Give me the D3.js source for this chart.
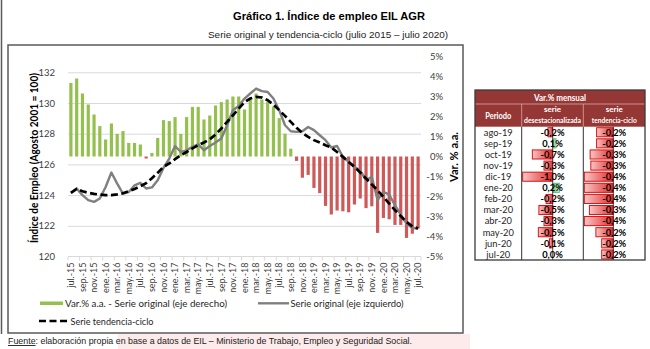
<!DOCTYPE html>
<html>
<head>
<meta charset="utf-8">
<script src="https://cdn.jsdelivr.net/npm/d3@7"></script>
<style>
  html, body { margin: 0; padding: 0; background: #fff; }
  svg { display: block; }
</style>
</head>
<body>
<div id="chart"></div>
<script>
'use strict';

// Monthly categories, jul-15 .. jul-20
const months = [
  'jul.-15', 'ago.-15', 'sep.-15', 'oct.-15', 'nov.-15', 'dic.-15',
  'ene.-16', 'feb.-16', 'mar.-16', 'abr.-16', 'may.-16', 'jun.-16',
  'jul.-16', 'ago.-16', 'sep.-16', 'oct.-16', 'nov.-16', 'dic.-16',
  'ene.-17', 'feb.-17', 'mar.-17', 'abr.-17', 'may.-17', 'jun.-17',
  'jul.-17', 'ago.-17', 'sep.-17', 'oct.-17', 'nov.-17', 'dic.-17',
  'ene.-18', 'feb.-18', 'mar.-18', 'abr.-18', 'may.-18', 'jun.-18',
  'jul.-18', 'ago.-18', 'sep.-18', 'oct.-18', 'nov.-18', 'dic.-18',
  'ene.-19', 'feb.-19', 'mar.-19', 'abr.-19', 'may.-19', 'jun.-19',
  'jul.-19', 'ago.-19', 'sep.-19', 'oct.-19', 'nov.-19', 'dic.-19',
  'ene.-20', 'feb.-20', 'mar.-20', 'abr.-20', 'may.-20', 'jun.-20',
  'jul.-20'
];

// Var.% a.a. - serie original (eje derecho)
const varAA = [
  3.68, 3.9, 3.15, 2.6, 2.1, 1.52, 0.85, 1.65, 1.13, 1.27,
  0.68, 0.68, 0.6, -0.1, 0.18, 0.93, 1.82, 1.77, 1.97, 1.13,
  1.97, 2.48, 2.48, 1.85, 2.05, 2.55, 2.72, 2.85, 3.0, 3.0,
  2.35, 2.85, 3.15, 2.85, 2.72, 2.5, 1.92, 1.14, 0.39, -0.22,
  -1.06, -0.92, -1.57, -1.83, -2.47, -2.9, -2.7, -2.74, -2.79, -2.4,
  -2.1, -2.58, -2.49, -3.82, -3.07, -3.14, -3.42, -3.42, -4.07, -3.86,
  -3.6
];

// Serie original (eje izquierdo)
const serieOriginal = [
  124.15, 124.43, 124.0, 123.67, 123.56, 123.78, 124.53, 125.47, 124.75, 124.1,
  124.2, 124.64, 124.8, 124.43, 124.5, 124.97, 125.77, 126.38, 127.2, 126.81,
  126.92, 127.14, 127.3, 126.92, 127.2, 127.43, 127.69, 128.55, 129.53, 129.8,
  130.29, 130.62, 130.94, 130.77, 130.72, 130.29, 129.53, 128.55, 128.16, 128.12,
  128.16, 128.44, 128.23, 127.9, 127.58, 127.1, 127.2, 126.49, 126.16, 125.84,
  125.6, 124.97, 125.19, 123.67, 124.21, 124.04, 123.34, 122.72, 122.15, 121.86,
  121.82
];

// Serie tendencia-ciclo (eje izquierdo)
const tendencia = [
  124.15, 124.4, 124.25, 124.15, 124.08, 124.03, 124.0, 124.0, 124.05, 124.12,
  124.25, 124.4, 124.58, 124.78, 125.1, 125.45, 125.84, 126.06, 126.34, 126.6,
  126.81, 127.04, 127.25, 127.43, 127.64, 127.95, 128.34, 128.77, 129.2, 129.64,
  130.05, 130.29, 130.4, 130.36, 130.18, 129.9, 129.53, 129.16, 128.77, 128.38,
  128.05, 127.79, 127.58, 127.43, 127.25, 127.1, 126.81, 126.49, 126.16, 125.84,
  125.47, 125.08, 124.69, 124.32, 123.88, 123.45, 123.02, 122.63, 122.25, 121.97,
  121.82
];

const leftTicks = [120, 122, 124, 126, 128, 130, 132];
const rightTicks = [-5, -4, -3, -2, -1, 0, 1, 2, 3, 4, 5];

// Tabla: Var.% mensual
const tablePeriods = ['ago-19', 'sep-19', 'oct-19', 'nov-19', 'dic-19', 'ene-20',
  'feb-20', 'mar-20', 'abr-20', 'may-20', 'jun-20', 'jul-20'];
const tableDesest = [-0.16, 0.11, -0.68, -0.29, -1.0, 0.22, -0.22, -0.46, -0.29, -0.48, -0.11, 0.0];
const tableTendencia = [-0.23, -0.23, -0.32, -0.31, -0.4, -0.4, -0.4, -0.33, -0.4, -0.24, -0.16, -0.16];

const W = 650, H = 349;
const plot = { left: 68, right: 421, top: 72.3, bottom: 256.5 };
const CAL = 'Lato, "Open Sans", sans-serif';
const ARIAL = '"Liberation Sans", Arial, sans-serif';

const svg = d3.select('#chart').append('svg')
  .attr('width', W)
  .attr('height', H)
  .attr('viewBox', '0 0 ' + W + ' ' + H);

const defs = svg.append('defs');

// page bits around the chart
svg.append('rect').attr('x', 118).attr('y', 334).attr('width', 352).attr('height', 15).attr('fill', '#fcebea');
svg.append('line').attr('x1', 1.5).attr('x2', 1.5).attr('y1', 0).attr('y2', 334)
  .attr('stroke', '#5a5a5a').attr('stroke-width', 1.5);
svg.append('rect').attr('x', 8).attr('y', 45).attr('width', 455).attr('height', 288)
  .attr('fill', 'none').attr('stroke', '#595959').attr('stroke-width', 1.5);

svg.append('text').attr('x', 329).attr('y', 19.5).attr('text-anchor', 'middle')
  .attr('font-family', ARIAL).attr('font-weight', 'bold').attr('font-size', 11.5)
  .attr('textLength', 192).attr('lengthAdjust', 'spacingAndGlyphs')
  .text('Gráfico 1. Índice de empleo EIL AGR');
svg.append('text').attr('x', 328).attr('y', 37.5).attr('text-anchor', 'middle')
  .attr('font-family', ARIAL).attr('font-size', 9.5).attr('fill', '#222')
  .attr('textLength', 240).attr('lengthAdjust', 'spacingAndGlyphs')
  .text('Serie original y tendencia-ciclo (julio 2015 – julio 2020)');

// scales
const x = d3.scaleBand().domain(months).range([plot.left, plot.right])
  .paddingInner(0.45).paddingOuter(0.225);
const cx = m => x(m) + x.bandwidth() / 2;
const yLeft = d3.scaleLinear().domain([120, 132]).range([plot.bottom, plot.top]);
const yRight = d3.scaleLinear().domain([-5, 5]).range([plot.bottom, 56.5]);

// gridlines
const grid = svg.append('g').attr('transform', 'translate(' + plot.left + ',0)')
  .call(d3.axisLeft(yLeft).tickValues(leftTicks.slice(1))
    .tickSize(-(plot.right - plot.left)).tickFormat(''));
grid.select('.domain').remove();
grid.selectAll('line').attr('stroke', '#d9d9d9').attr('stroke-width', 1);

// left axis labels
const gl = svg.append('g').attr('transform', 'translate(' + plot.left + ',0)')
  .call(d3.axisLeft(yLeft).tickValues(leftTicks).tickSize(0).tickPadding(13));
gl.select('.domain').remove();
gl.selectAll('text').attr('font-family', CAL).attr('font-size', 9.5).attr('fill', '#404040');

// right axis labels
const gr = svg.append('g').attr('transform', 'translate(443,0)')
  .call(d3.axisLeft(yRight).tickValues(rightTicks).tickSize(0).tickPadding(0)
    .tickFormat(d => d + '%'));
gr.select('.domain').remove();
gr.selectAll('text').attr('font-family', CAL).attr('font-size', 9.5).attr('fill', '#404040');

// axis titles
svg.append('text').attr('transform', 'translate(38,158) rotate(-90)')
  .attr('text-anchor', 'middle').attr('font-family', CAL).attr('font-weight', 'bold')
  .attr('font-size', 10.5).attr('textLength', 170).attr('lengthAdjust', 'spacingAndGlyphs')
  .text('Índice de Empleo (Agosto 2001 = 100)');
svg.append('text').attr('transform', 'translate(458,157) rotate(-90)')
  .attr('text-anchor', 'middle').attr('font-family', CAL).attr('font-weight', 'bold')
  .attr('font-size', 10.5).attr('textLength', 50).attr('lengthAdjust', 'spacingAndGlyphs')
  .text('Var. % a.a.');

// bars
svg.append('g').selectAll('rect')
  .data(months)
  .join('rect')
  .attr('x', m => x(m))
  .attr('width', x.bandwidth())
  .attr('y', (m, i) => Math.min(yRight(varAA[i]), yRight(0)))
  .attr('height', (m, i) => Math.abs(yRight(varAA[i]) - yRight(0)))
  .attr('fill', (m, i) => varAA[i] >= 0 ? '#94c04e' : '#cf5858');

// bottom axis line with ticks every 2 months
svg.append('line').attr('x1', plot.left).attr('x2', plot.right)
  .attr('y1', plot.bottom).attr('y2', plot.bottom).attr('stroke', '#d9d9d9');
const tickPos = months.filter((m, i) => i % 2 === 0).map(m => x(m) - x.step() * x.paddingInner() / 2);
tickPos.push(plot.right);
svg.append('g').selectAll('line').data(tickPos).join('line')
  .attr('x1', d => d).attr('x2', d => d)
  .attr('y1', plot.bottom).attr('y2', plot.bottom + 4)
  .attr('stroke', '#d9d9d9');

svg.append('g').selectAll('text')
  .data(months.filter((m, i) => i % 2 === 0))
  .join('text')
  .attr('transform', m => 'translate(' + cx(m) + ',' + (plot.bottom + 6) + ') rotate(-90)')
  .attr('text-anchor', 'end').attr('dy', '0.35em')
  .attr('font-family', CAL).attr('font-size', 9).attr('fill', '#404040')
  .text(m => m);

// lines
const lineOrig = d3.line().x(d => cx(d.m)).y(d => yLeft(d.v));
svg.append('path')
  .datum(months.map((m, i) => ({ m: m, v: serieOriginal[i] })))
  .attr('d', lineOrig)
  .attr('fill', 'none').attr('stroke', '#808080').attr('stroke-width', 2.4)
  .attr('stroke-linejoin', 'round');
svg.append('path')
  .datum(months.map((m, i) => ({ m: m, v: tendencia[i] })))
  .attr('d', lineOrig)
  .attr('fill', 'none').attr('stroke', '#000').attr('stroke-width', 2.7)
  .attr('stroke-dasharray', '7,3.5');

// legend
const leg = svg.append('g').attr('font-family', CAL).attr('font-size', 10).attr('fill', '#262626');
leg.append('rect').attr('x', 40).attr('y', 301.5).attr('width', 23).attr('height', 3.5).attr('fill', '#94c04e');
leg.append('text').attr('x', 65).attr('y', 307).attr('textLength', 162).attr('lengthAdjust', 'spacingAndGlyphs')
  .text('Var.% a.a. - Serie original (eje derecho)');
leg.append('line').attr('x1', 258).attr('x2', 289).attr('y1', 303.3).attr('y2', 303.3)
  .attr('stroke', '#808080').attr('stroke-width', 2.4);
leg.append('text').attr('x', 290.5).attr('y', 307).attr('textLength', 113).attr('lengthAdjust', 'spacingAndGlyphs')
  .text('Serie original (eje izquierdo)');
leg.append('line').attr('x1', 39).attr('x2', 69).attr('y1', 321).attr('y2', 321)
  .attr('stroke', '#000').attr('stroke-width', 2.7).attr('stroke-dasharray', '7,3.5');
leg.append('text').attr('x', 70.5).attr('y', 324.5).attr('textLength', 83).attr('lengthAdjust', 'spacingAndGlyphs')
  .text('Serie tendencia-ciclo');

// source
const src = svg.append('text').attr('x', 8).attr('y', 344).attr('font-family', ARIAL)
  .attr('font-size', 9.3).attr('fill', '#222').attr('textLength', 404).attr('lengthAdjust', 'spacingAndGlyphs');
src.append('tspan').attr('text-decoration', 'underline').text('Fuente');
src.append('tspan').text(': elaboración propia en base a datos de EIL – Ministerio de Trabajo, Empleo y Seguridad Social.');

// ---- table ----
const tb = { left: 475, right: 645, top: 90, h1: 104, h2: 126.7, bottom: 260 };
const cols = [475, 521.7, 583.3, 645];
const rowH = (tb.bottom - tb.h2) / tablePeriods.length;
const HEAD = '#953735';

const negGrad = defs.append('linearGradient').attr('id', 'negGrad');
negGrad.append('stop').attr('offset', '0%').attr('stop-color', '#f8c6c6');
negGrad.append('stop').attr('offset', '100%').attr('stop-color', '#e02c2c');
const posGrad = defs.append('linearGradient').attr('id', 'posGrad');
posGrad.append('stop').attr('offset', '0%').attr('stop-color', '#5cc07e');
posGrad.append('stop').attr('offset', '100%').attr('stop-color', '#d6f0dd');

const t = svg.append('g');
t.append('rect').attr('x', tb.left).attr('y', tb.top).attr('width', tb.right - tb.left)
  .attr('height', tb.h2 - tb.top).attr('fill', HEAD);
t.append('line').attr('x1', tb.left).attr('x2', tb.right).attr('y1', tb.h1).attr('y2', tb.h1)
  .attr('stroke', '#d8a9a8').attr('stroke-width', 0.8);
[cols[1], cols[2]].forEach(cx0 => {
  t.append('line').attr('x1', cx0).attr('x2', cx0).attr('y1', tb.h1).attr('y2', tb.h2)
    .attr('stroke', '#d8a9a8').attr('stroke-width', 0.8);
});

const headTxt = (xx, yy, s, size, len) => {
  const el = t.append('text').attr('x', xx).attr('y', yy)
    .attr('text-anchor', 'middle').attr('font-family', CAL).attr('font-weight', 'bold')
    .attr('font-size', size).attr('fill', '#fff').text(s);
  if (len) el.attr('textLength', len).attr('lengthAdjust', 'spacingAndGlyphs');
  return el;
};
headTxt(560, 100.5, 'Var.% mensual', 9, 52);
headTxt(498.3, 119, 'Periodo', 8.5, 26);
headTxt(552.5, 112, 'serie', 8);
headTxt(552.5, 122.5, 'desestacionalizada', 8, 57);
headTxt(614.2, 112, 'serie', 8);
headTxt(614.2, 122.5, 'tendencia-ciclo', 8, 45);

const xDes = d3.scaleLinear().domain([-1, 0]).range([522.7, 552.7]);
const xTen = d3.scaleLinear().domain([-0.4, 0]).range([584.3, 613.3]);
const rowY = i => tb.h2 + i * rowH;
const fmt = v => d3.format('.1f')(v).replace('.', ',').replace('−', '-') + '%';

function dataBars(vals, sc) {
  t.append('g').selectAll('rect').data(vals).join('rect')
    .attr('x', v => Math.min(sc(v), sc(0)))
    .attr('width', v => Math.abs(sc(v) - sc(0)))
    .attr('y', (v, i) => rowY(i) + 1)
    .attr('height', rowH - 2)
    .attr('fill', v => v < 0 ? 'url(#negGrad)' : 'url(#posGrad)')
    .attr('stroke', v => v < 0 ? '#d80000' : '#4fb36f')
    .attr('stroke-width', v => v === 0 ? 0 : 0.9);
}
dataBars(tableDesest, xDes);
dataBars(tableTendencia, xTen);

// zero axes of data bars
[552.7, 613.3].forEach(z => {
  t.append('line').attr('x1', z).attr('x2', z).attr('y1', tb.h2).attr('y2', tb.bottom)
    .attr('stroke', '#222').attr('stroke-width', 0.8);
});

const cellTxt = (vals, xx, bold, f) => t.append('g').selectAll('text').data(vals).join('text')
  .attr('x', xx).attr('y', (v, i) => rowY(i) + rowH / 2 + 3.3)
  .attr('text-anchor', 'middle').attr('font-family', CAL)
  .attr('font-weight', bold ? 'bold' : 'normal').attr('font-size', 9.3)
  .attr('fill', bold ? '#000' : '#262626').text(f);
cellTxt(tablePeriods, 498.3, false, d => d);
cellTxt(tableDesest, 552.5, true, fmt);
cellTxt(tableTendencia, 614.2, true, fmt);

// table grid
[cols[1], cols[2]].forEach(cx0 => {
  t.append('line').attr('x1', cx0).attr('x2', cx0).attr('y1', tb.h2).attr('y2', tb.bottom)
    .attr('stroke', '#333').attr('stroke-width', 1);
});
t.append('rect').attr('x', tb.left).attr('y', tb.top).attr('width', tb.right - tb.left)
  .attr('height', tb.bottom - tb.top).attr('fill', 'none').attr('stroke', '#3a3a3a').attr('stroke-width', 1.3);
</script>
</body>
</html>
